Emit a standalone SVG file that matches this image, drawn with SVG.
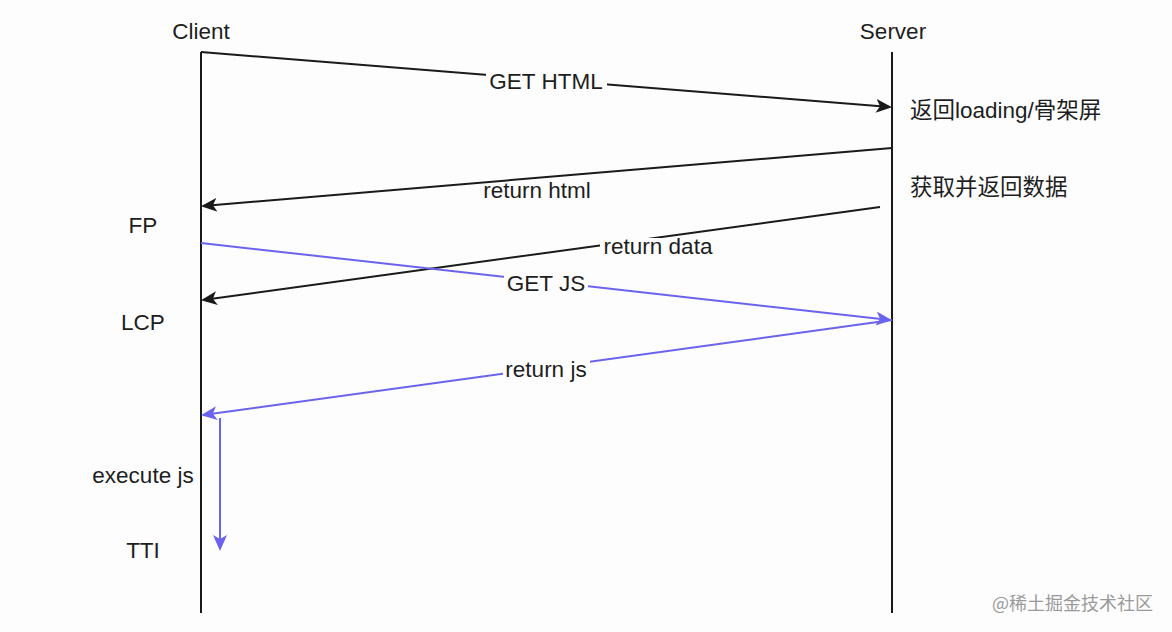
<svg xmlns="http://www.w3.org/2000/svg" width="1172" height="632" viewBox="0 0 1172 632">
<defs>
<style>
.t{font-family:"Liberation Sans","Noto Sans CJK SC",Arial,sans-serif;font-size:22.5px;fill:#1e1e1e}
.c{text-anchor:middle}
.life{stroke:#1a1a1a;stroke-width:2;fill:none}
.blk{stroke:#1a1a1a;stroke-width:2;fill:none}
.blu{stroke:#6b63ee;stroke-width:2;fill:none}
.bg{fill:#fdfdfd}
</style>
<marker id="ab" markerWidth="16" markerHeight="14" refX="14" refY="7" orient="auto" markerUnits="userSpaceOnUse">
<path d="M0,0 L16,7 L0,14 L4,7 Z" fill="#1a1a1a"/>
</marker>
<marker id="au" markerWidth="16" markerHeight="14" refX="14" refY="7" orient="auto" markerUnits="userSpaceOnUse">
<path d="M0,0 L16,7 L0,14 L4,7 Z" fill="#6b63ee"/>
</marker>
</defs>
<rect width="1172" height="632" fill="#fdfdfd"/>
<g id="client">
<text class="t c" x="201" y="39">Client</text>
<line class="life" x1="201" y1="52" x2="201" y2="613"/>
</g>
<g id="server">
<text class="t c" x="893" y="39">Server</text>
<line class="life" x1="892" y1="52" x2="892" y2="613"/>
</g>
<g id="connectors">
<line class="blk" x1="201" y1="52" x2="890" y2="107" marker-end="url(#ab)"/>
<line class="blk" x1="892" y1="148" x2="203" y2="206" marker-end="url(#ab)"/>
<line class="blk" x1="880" y1="207" x2="203" y2="300" marker-end="url(#ab)"/>
<line class="blu" x1="201" y1="243" x2="890" y2="320" marker-end="url(#au)"/>
<line class="blu" x1="892" y1="320" x2="203" y2="415" marker-end="url(#au)"/>
<line class="blu" x1="220" y1="418" x2="220" y2="549" marker-end="url(#au)"/>
</g>
<g id="labels">
<rect class="bg" x="486" y="70" width="121" height="24"/>
<text class="t c" x="546" y="89">GET HTML</text>
<text class="t c" x="537" y="198">return html</text>
<rect class="bg" x="600" y="238" width="116" height="14"/>
<text class="t c" x="658" y="254">return data</text>
<rect class="bg" x="504" y="272" width="84" height="24"/>
<text class="t c" x="546" y="291">GET JS</text>
<rect class="bg" x="503" y="358" width="87" height="24"/>
<text class="t c" x="546" y="377">return js</text>
</g>
<g id="phases">
<text class="t c" x="143" y="233">FP</text>
<text class="t c" x="143" y="330">LCP</text>
<text class="t c" x="143" y="483">execute js</text>
<text class="t c" x="143" y="558">TTI</text>
</g>
<g id="server-notes">
<text class="t" x="910" y="118">返回loading/骨架屏</text>
<text class="t" x="910" y="195">获取并返回数据</text>
</g>
<text x="992" y="610" style="font-family:'Noto Sans CJK SC','Liberation Sans',sans-serif;font-size:18px;fill:#9a9a9a">@稀土掘金技术社区</text>
</svg>
